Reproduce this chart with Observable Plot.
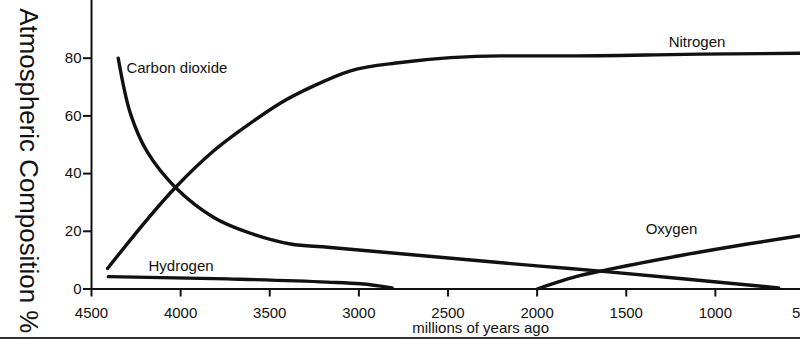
<!DOCTYPE html>
<html>
<head>
<meta charset="utf-8">
<script src="https://cdn.jsdelivr.net/npm/d3@7"></script>
<script src="https://cdn.jsdelivr.net/npm/@observablehq/plot@0.6"></script>
<style>
  html, body { margin: 0; padding: 0; background: #fff; overflow: hidden; }
  #chart svg { display: block; border-bottom: 2px solid #333; }
</style>
</head>
<body>
<div id="chart"></div>
<script>
// ---- data ----
const xTicks = [4500, 4000, 3500, 3000, 2500, 2000, 1500, 1000, 500];
const yTicks = [0, 20, 40, 60, 80];

const co2Years   = [4350, 4281, 4187, 4029, 3814, 3626, 3383, 3159, 2000, 1644, 645];
const co2Values  = [80, 60.7, 47.5, 35.2, 24.8, 19.7, 15.6, 14.4, 8.0, 6.2, 0.4];

const n2Years    = [4410, 4029, 3814, 3626, 3439, 3253, 3047, 2766, 2486, 2205, 1868, 1083, 520];
const n2Values   = [7.1, 35.2, 47.9, 56.7, 64.5, 70.4, 75.6, 78.5, 80.2, 80.8, 80.8, 81.4, 81.7];

const h2Years    = [4405, 3739, 3178, 2990, 2813];
const h2Values   = [4.3, 3.5, 2.4, 1.8, 0.4];

const o2Years    = [2000, 1756, 1644, 1195, 820, 520];
const o2Values   = [0, 4.7, 6.2, 11.6, 15.6, 18.5];

const seriesNames = ["Carbon dioxide", "Nitrogen", "Hydrogen", "Oxygen"];
const labelYears  = [4304, 1262, 4180, 1391];
const labelValues = [76.4, 85.7, 7.8, 20.7];

const yTitle = "Atmospheric Composition %";
const xTitle = "millions of years ago";
const xTitleYear = 2317;

// ---- build tables ----
const toRows = (name, xs, ys) => xs.map((x, i) => ({series: name, year: x, value: ys[i]}));
const co2Rows = toRows("Carbon dioxide", co2Years, co2Values);
const otherRows = [
  ...toRows("Nitrogen", n2Years, n2Values),
  ...toRows("Hydrogen", h2Years, h2Values),
  ...toRows("Oxygen", o2Years, o2Values)
];
const labels = seriesNames.map((s, i) => ({text: s, year: labelYears[i], value: labelValues[i]}));

const font = "'Liberation Sans', Arial, Helvetica, sans-serif";

const chart = Plot.plot({
  width: 800,
  height: 337,
  marginLeft: 91,
  marginRight: -4,
  marginTop: 0,
  marginBottom: 48.5,
  style: {fontFamily: font, fontSize: "15px", color: "#111", background: "#fff"},
  x: {domain: [4500, 500]},
  y: {domain: [0, 100]},
  marks: [
    Plot.ruleY([0], {stroke: "#111", strokeWidth: 2}),
    Plot.ruleX([4500], {y1: 0, y2: 100, stroke: "#111", strokeWidth: 2}),
    Plot.axisX({ticks: xTicks, tickSize: 8, tickPadding: 10, fontSize: 15, label: null, strokeWidth: 2, tickFormat: d => String(d)}),
    Plot.axisY({ticks: yTicks, tickSize: 8, tickPadding: 2, fontSize: 15, label: null, strokeWidth: 2}),
    Plot.line(co2Rows, {x: "year", y: "value", stroke: "#111", strokeWidth: 3.4, curve: "catmull-rom"}),
    Plot.line(otherRows, {x: "year", y: "value", z: "series", stroke: "#111", strokeWidth: 3.4, curve: "monotone-x"}),
    Plot.text(labels, {x: "year", y: "value", text: "text", textAnchor: "start", lineAnchor: "middle", fontSize: 15, fill: "#111"}),
    Plot.text([xTitle], {x: () => xTitleYear, text: d => d, frameAnchor: "bottom", lineAnchor: "middle", dy: 39.4, fontSize: 15, fill: "#111"}),
    Plot.text([yTitle], {text: d => d, frameAnchor: "left", textAnchor: "middle", dx: -64, dy: 26, rotate: 90, lineAnchor: "middle", fontSize: 25, fill: "#111", className: "ytitle"})
  ]
});
document.getElementById("chart").appendChild(chart);
d3.select(chart).selectAll(".ytitle text").attr("textLength", 325).attr("lengthAdjust", "spacingAndGlyphs");
</script>
</body>
</html>
